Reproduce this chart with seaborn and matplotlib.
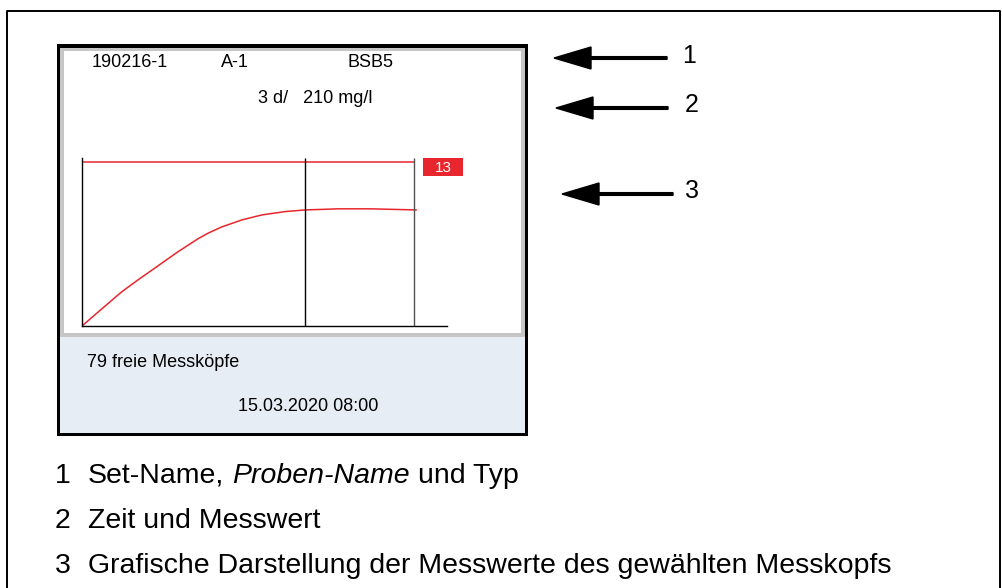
import matplotlib
matplotlib.use("Agg")
import matplotlib.pyplot as plt
import seaborn as sns
from matplotlib.patches import Rectangle, FancyArrow

sns.set_theme(style="white")
plt.rcParams['font.family'] = ['Liberation Sans', 'DejaVu Sans']
plt.rcParams['text.color'] = 'black'

# texts shown on the display
set_name = "190216-1"
sample_name = "A-1"
test_type = "BSB5"
time_value = "3 d/   210 mg/l"
probe_number = "13"
free_probes = "79 freie Messköpfe"
timestamp = "15.03.2020 08:00"

# BSB curve of the selected probe (days, mg/l)
days = [0, 0.25, 0.6, 0.85, 1.1, 1.43, 1.75, 1.9, 2.1, 2.41, 2.71, 3.06, 3.36, 3.86, 4.36, 5.04]
bsb = [0, 26, 62, 84, 105, 133, 158, 168, 179, 192, 201, 207, 210, 212, 212, 210]
limit_value = 297
cursor_day = 3.36
end_day = 5.0
x_max = 5.5
y_max = 304

callouts = ["1", "2", "3"]
legend_numbers = ["1", "2", "3"]
legend_texts = [
    ["Set-Name,", "Proben-Name", "und Typ"],
    ["Zeit und Messwert"],
    ["Grafische Darstellung der Messwerte des gewählten Messkopfs"],
]

red = "#e8262d"
W, H = 1002, 588

fig = plt.figure(figsize=(W / 100, H / 100), dpi=100)
bg = fig.add_axes([0, 0, 1, 1])
bg.set_xlim(0, W)
bg.set_ylim(H, 0)
bg.axis("off")

# outer frame of the page box
bg.plot([7, 7, 1000, 1000], [588, 11, 11, 588], color="black", lw=1.4)

# device screen
bg.add_patch(Rectangle((57, 44), 471, 392, facecolor="black", edgecolor="none"))
bg.add_patch(Rectangle((60, 48), 465, 289, facecolor="#c6c6c6", edgecolor="none"))
bg.add_patch(Rectangle((64, 51), 457, 282, facecolor="white", edgecolor="none"))
bg.add_patch(Rectangle((60, 337), 465, 96, facecolor="#e6edf5", edgecolor="none"))

fs = 13
bg.text(92, 67, set_name, fontsize=fs, va="baseline")
bg.text(221, 67, sample_name, fontsize=fs, va="baseline")
bg.text(348, 67, test_type, fontsize=fs, va="baseline")
bg.text(258, 103, time_value, fontsize=fs, va="baseline")
bg.text(87, 367, free_probes, fontsize=fs, va="baseline")
bg.text(308, 411, timestamp, fontsize=fs, va="baseline", ha="center")

# chart
ax = fig.add_axes([82 / W, 1 - 326 / H, (447 - 82) / W, (326 - 158) / H])
ax.set_facecolor("none")
sns.lineplot(x=days, y=bsb, color=red, lw=1.1, ax=ax)
ax.hlines(limit_value, 0, end_day, color=red, lw=1.1)
ax.vlines(cursor_day, 0, y_max, color="black", lw=1.0)
ax.vlines(end_day, 0, y_max, color="#505050", lw=1.0)
ax.set_xlim(0, x_max)
ax.set_ylim(0, y_max)
ax.set_xticks([])
ax.set_yticks([])
for side in ["top", "right"]:
    ax.spines[side].set_visible(False)
for side in ["left", "bottom"]:
    ax.spines[side].set_color("black")
    ax.spines[side].set_linewidth(1.0)

bg.add_patch(Rectangle((423, 158), 40, 18, facecolor=red, edgecolor="none"))
bg.text(443, 167.5, probe_number, color="white", fontsize=11, ha="center", va="center")

# callout arrows
arrows = [(667, 554, 58), (668, 556, 108), (673, 562, 194)]
label_pos = [(689, 63), (692, 112), (692, 198)]
for (x0, x1, y), (lx, ly), lab in zip(arrows, label_pos, callouts):
    bg.add_patch(FancyArrow(x0, y, x1 - x0, 0, width=2.7, head_width=22, head_length=37,
                            length_includes_head=True, color="black"))
    bg.text(lx, ly, lab, fontsize=18, ha="center", va="baseline")

# legend below
fig.canvas.draw()
renderer = fig.canvas.get_renderer()
lfs = 20.5
baselines = [483, 528, 573]
for num, parts, yb in zip(legend_numbers, legend_texts, baselines):
    bg.text(55, yb, num, fontsize=lfs, va="baseline")
    x = 88
    for i, part in enumerate(parts):
        style = "italic" if (len(parts) == 3 and i == 1) else "normal"
        t = bg.text(x, yb, part, fontsize=lfs, va="baseline", style=style)
        bb = t.get_window_extent(renderer)
        x = bb.x1 + 8

fig.savefig("out.png", dpi=100)
